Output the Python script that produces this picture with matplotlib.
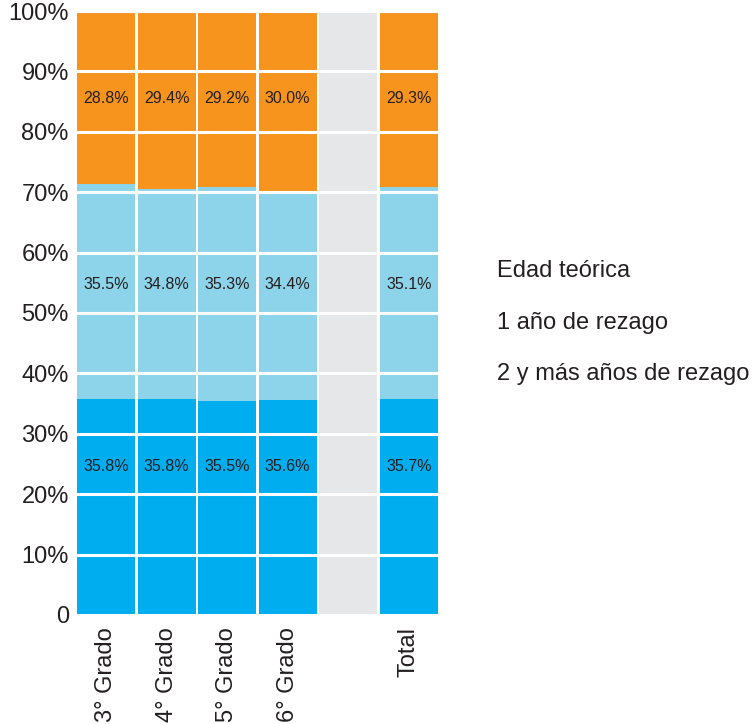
import matplotlib
matplotlib.use("Agg")
import matplotlib.pyplot as plt
import numpy as np

plt.rcParams['font.family'] = ['Liberation Sans', 'DejaVu Sans']

# data
categories = ["3° Grado", "4° Grado", "5° Grado", "6° Grado", "", "Total"]
series_names = ["Edad teórica", "1 año de rezago", "2 y más años de rezago"]
edad_teorica = [35.8, 35.8, 35.5, 35.6, 0, 35.7]
un_anio = [35.5, 34.8, 35.3, 34.4, 0, 35.1]
dos_mas = [28.8, 29.4, 29.2, 30.0, 0, 29.3]
blank_col = [0, 0, 0, 0, 100, 0]

colors = ["#00AEEF", "#8DD4EA", "#F7941E"]
gray = "#E6E7E8"
text_col = "#231F20"

fig = plt.figure(figsize=(7.56, 7.24), dpi=100)
ax = fig.add_axes([0.102, 0.1506, 0.477, 0.8342])

x = np.arange(len(categories))
w = 0.955
ax.bar(x, blank_col, width=w, color=gray, zorder=1)

# labels sit on one row per series, placed relative to the Total bar segment
label_frac = [0.69, 0.54, 0.5]
bottom = np.zeros(len(categories))
for vals, col, frac in zip([edad_teorica, un_anio, dos_mas], colors, label_frac):
    vals = np.array(vals, dtype=float)
    ax.bar(x, vals, width=w, bottom=bottom, color=col, zorder=1)
    ylab = bottom[-1] + vals[-1] * frac
    for xi, v in zip(x, vals):
        if v > 0:
            ax.text(xi, ylab, f"{v:.1f}%", ha="center", va="center",
                    fontsize=11.5, color=text_col, zorder=4)
    bottom += vals

ax.set_xlim(-0.478, len(categories) - 0.522)
ax.set_ylim(0, 100)
ax.set_yticks(np.arange(0, 101, 10))
ax.set_yticklabels(["0"] + [f"{v}%" for v in range(10, 101, 10)])
ax.set_xticks(x)
ax.set_xticklabels(categories, rotation=90, va="top")
ax.tick_params(axis="both", length=0, labelsize=17, colors=text_col)
ax.tick_params(axis="y", pad=6)
ax.tick_params(axis="x", pad=9)
for s in ax.spines.values():
    s.set_visible(False)

ax.set_axisbelow(False)
ax.yaxis.grid(True, color="white", linewidth=2.2, zorder=2)

# legend entries (text only)
for i, name in enumerate(series_names):
    fig.text(497 / 756, 1 - (271 + 51.5 * i) / 724, name, fontsize=17,
             color=text_col, va="center", ha="left")

fig.savefig("out.png", dpi=100)
